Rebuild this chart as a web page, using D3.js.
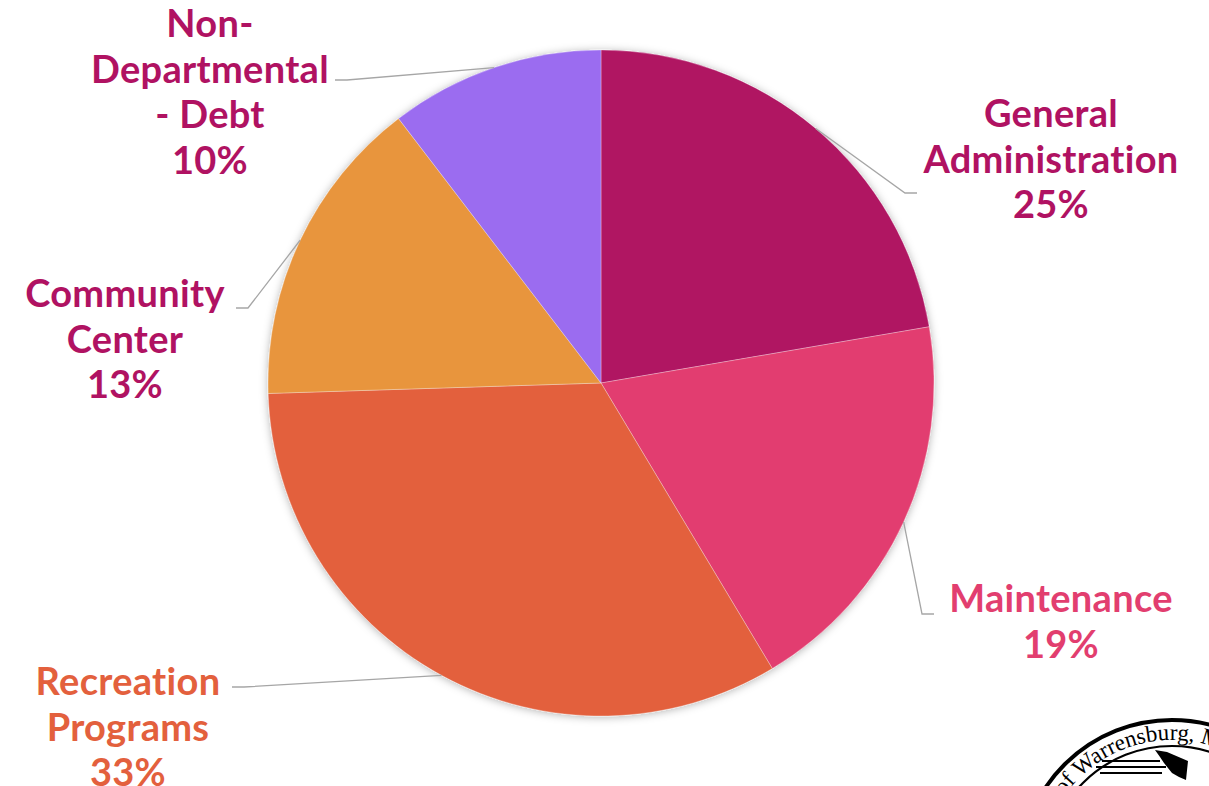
<!DOCTYPE html>
<html>
<head>
<meta charset="utf-8">
<script src="https://cdn.jsdelivr.net/npm/d3@7"></script>
<style>
  html, body { margin: 0; padding: 0; background: #fff; }
  svg { display: block; }
  .lbl { font-family: Lato, "Open Sans", sans-serif; font-weight: 700; font-size: 38px; letter-spacing: 0.3px; }
</style>
</head>
<body>
<svg id="chart" width="1209" height="786"></svg>
<script>
// slice data, clockwise from 12 o'clock
const categories = ["General Administration", "Maintenance", "Recreation Programs", "Community Center", "Non-Departmental - Debt"];
const values = [22.3, 19.1, 33.1, 15.1, 10.4];
const percentLabels = ["25%", "19%", "33%", "13%", "10%"];
const labelLines = [
  ["General", "Administration"],
  ["Maintenance"],
  ["Recreation", "Programs"],
  ["Community", "Center"],
  ["Non-", "Departmental", "- Debt"]
];
const sliceColors = ["#b01262", "#e23e6f", "#e3603d", "#e8953d", "#9b6cf0"];
const textColors = ["#b01262", "#e23e6f", "#e3603d", "#b01262", "#b01262"];

// label placement: text centre x, first baseline, leader elbow + end
const labelLayout = [
  { x: 1051, y: 127, elbow: [905, 193], end: [917, 193] },
  { x: 1061, y: 612, elbow: [922, 614], end: [934, 614] },
  { x: 128, y: 695, elbow: [244, 687], end: [232, 687] },
  { x: 125, y: 307, elbow: [248, 308], end: [236, 308] },
  { x: 210, y: 37, elbow: [347, 80], end: [335, 80] }
];

const cx = 601, cy = 383, radius = 333;
const lineHeight = 45.5;

const svg = d3.select("#chart");

const defs = svg.append("defs");
const shadow = defs.append("filter").attr("id", "shadow")
  .attr("x", "-10%").attr("y", "-10%").attr("width", "120%").attr("height", "120%");
shadow.append("feDropShadow")
  .attr("dx", 0).attr("dy", 1).attr("stdDeviation", 4)
  .attr("flood-color", "#000").attr("flood-opacity", 0.3);

const pie = d3.pie().sort(null).value(d => d);
const arc = d3.arc().innerRadius(0).outerRadius(radius);
const edgeArc = d3.arc().innerRadius(radius).outerRadius(radius);
const arcData = pie(values);

const g = svg.append("g").attr("transform", `translate(${cx},${cy})`);

g.append("g").attr("filter", "url(#shadow)")
  .selectAll("path")
  .data(arcData)
  .join("path")
  .attr("d", arc)
  .attr("fill", (_, i) => sliceColors[i])
  .attr("stroke", "#fff")
  .attr("stroke-opacity", 0.5)
  .attr("stroke-width", 0.6);

// leader lines
svg.append("g")
  .selectAll("polyline")
  .data(arcData)
  .join("polyline")
  .attr("fill", "none")
  .attr("stroke", "#a6a6a6")
  .attr("stroke-width", 1.3)
  .attr("points", (d, i) => {
    const [sx, sy] = edgeArc.centroid(d);
    const L = labelLayout[i];
    return [[sx + cx, sy + cy], L.elbow, L.end].map(p => p.join(",")).join(" ");
  });

// labels
const labels = svg.append("g")
  .selectAll("text")
  .data(categories)
  .join("text")
  .attr("class", "lbl")
  .attr("text-anchor", "middle")
  .attr("fill", (_, i) => textColors[i]);

labels.each(function (_, i) {
  const L = labelLayout[i];
  const lines = labelLines[i].concat([percentLabels[i]]);
  d3.select(this).selectAll("tspan")
    .data(lines)
    .join("tspan")
    .attr("x", L.x)
    .attr("y", (_, j) => L.y + j * lineHeight)
    .text(t => t);
});

// city seal, bottom right corner
const seal = svg.append("g").attr("transform", "translate(1172,872)");
seal.append("circle").attr("r", 152).attr("fill", "#fff")
  .attr("stroke", "#000").attr("stroke-width", 4);
seal.append("circle").attr("r", 126).attr("fill", "none")
  .attr("stroke", "#000").attr("stroke-width", 2.2);
defs.append("path").attr("id", "sealArc")
  .attr("d", d3.arc().innerRadius(132).outerRadius(132)
    .startAngle(-1.3).endAngle(1.5)());
seal.append("text")
  .attr("font-family", "Liberation Serif, DejaVu Serif, serif")
  .attr("font-size", 23)
  .append("textPath")
  .attr("href", "#sealArc")
  .attr("startOffset", 0)
  .text("City of Warrensburg, Missouri");
seal.selectAll("line.bar")
  .data([[-70, -111, -12], [-76, -105, -6], [-72, -99, -10]])
  .join("line")
  .attr("x1", d => d[0]).attr("x2", d => d[2])
  .attr("y1", d => d[1]).attr("y2", d => d[1])
  .attr("stroke", "#000").attr("stroke-width", 2);
seal.append("polygon")
  .attr("points", "-17,-122 -5,-120 16,-111 14,-92 7,-95 0,-99 -8,-109 -12,-115")
  .attr("fill", "#000");
</script>
</body>
</html>
